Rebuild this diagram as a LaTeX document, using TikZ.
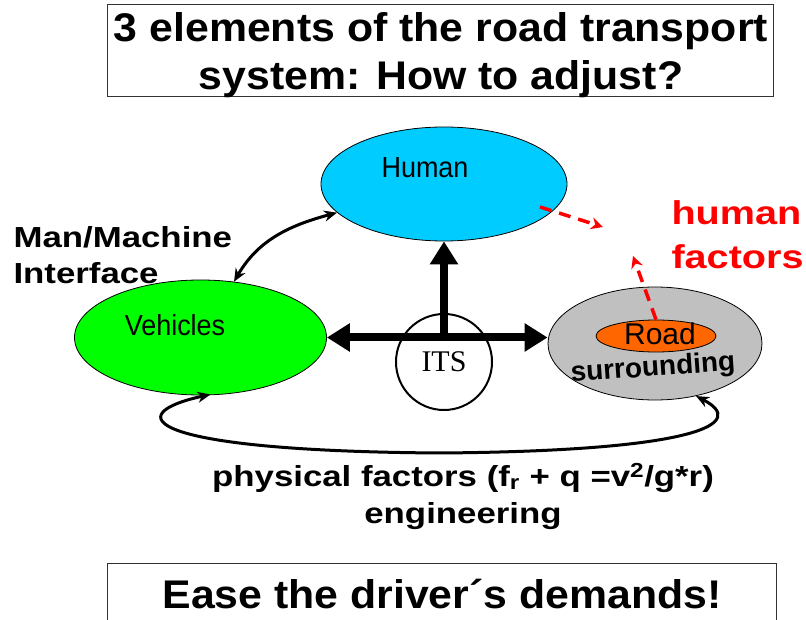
\documentclass[tikz,border=0pt]{standalone}
\usepackage{fontspec}
\setmainfont{Liberation Sans}[FakeStretch=1.2]
\newfontfamily\titlefont{Liberation Sans}[FakeStretch=1.07]
\newfontfamily\narrowfont{Liberation Sans}[FakeStretch=0.93]
\newfontfamily\plainfont{Liberation Sans}
\newfontfamily\itsfont{Liberation Serif}
\usetikzlibrary{shapes.geometric}
\usetikzlibrary{arrows.meta}
\usetikzlibrary{calc}
\definecolor{humancyan}{RGB}{0,204,255}
\definecolor{vehiclegreen}{RGB}{0,255,0}
\definecolor{roadgrey}{RGB}{192,192,192}
\definecolor{roadorange}{RGB}{255,102,0}
\newcommand{\setpx}[2]{%
    % #1 = size, #2 = baselineskip
    \fontsize{#1}{#2}\selectfont}
\tikzset{
    element/.style={ellipse, draw=black, line width=0.8pt, inner sep=0pt},
    framebox/.style={draw=black!80, line width=1pt},
    bigarrow/.style={line width=8pt, -{Triangle[length=23pt,width=27pt]}},
    thinarrow/.style={line width=3pt, {Stealth[length=13pt,width=11pt]}-{Stealth[length=13pt,width=11pt]}},
    redarrow/.style={red, line width=3.5pt, dash pattern=on 12pt off 8pt, -{Stealth[length=12pt,width=12pt]}},
}

\begin{document}
\begin{tikzpicture}[x=1pt, y=1pt]

    \useasboundingbox (0,0) rectangle (806,619);

    % title and bottom frame
    \draw[framebox] (107,614) rectangle (773,522);
    \node[align=center, font=\titlefont\bfseries\setpx{40}{48}] (title) at (441,564)
        {3 elements of the road transport\\system: How to adjust?};

    \draw[framebox] (107,56) rectangle (776,-20);
    \node[anchor=base, font=\titlefont\bfseries\setpx{40}{46}] (ease) at (442,11) {Ease the driver´s demands!};

    % the three elements
    \node[element, fill=humancyan, minimum width=246pt, minimum height=114pt] (human) at (444,435) {};
    \node[font=\narrowfont\setpx{29}{34}] (humantext) at (425,451) {Human};

    \node[element, fill=vehiclegreen, minimum width=252pt, minimum height=115pt] (vehicles) at (200.5,281.5) {};
    \node[font=\narrowfont\setpx{29}{34}] (vehiclestext) at (175,294) {Vehicles};

    \node[element, fill=roadgrey, minimum width=214pt, minimum height=113pt] (road) at (655,275.5) {};
    \node[element, fill=roadorange, minimum width=120pt, minimum height=32pt] (roadcore) at (656,283) {};
    \node[font=\plainfont\setpx{30}{34}] (roadtext) at (660,285) {Road};
    \node[font=\plainfont\bfseries\setpx{28}{30}, rotate=4] (surrtext) at (653,250) {surrounding};

    \node[circle, draw=black, line width=2pt, minimum size=96pt, inner sep=0pt,
          font=\itsfont\setpx{30}{34}] (its) at (444,257) {ITS};

    % ITS links
    \draw[bigarrow, {Triangle[length=23pt,width=27pt]}-{Triangle[length=23pt,width=27pt]}]
        (vehicles.east) -- (vehicles.east -| road.west);
    \draw[bigarrow] (its |- vehicles.east) -- (human.south);

    % man/machine
    \draw[thinarrow] (vehicles.59) to[out=60, in=195] (human.195);
    \node[anchor=west, align=left, font=\bfseries\setpx{29}{36}] (mmi) at (10,364)
        {Man/Machine\\Interface};

    % physical factors loop
    \coordinate (loopbottom) at (440,166);
    \draw[thinarrow, shorten <=-4pt] (vehicles.-84) .. controls (120,205) and (140,168) .. (loopbottom)
        .. controls (700,168) and (748,196) .. (road.-52);
    \node[align=center, font=\bfseries\setpx{29}{37}] (physical) at (463,123)
        {physical factors (f\textsubscript{r} + q =v\textsuperscript{2}/g*r)\\engineering};

    % human factors
    \coordinate (hfstart) at (540,412);
    \coordinate (hftip) at (603,392);
    \coordinate (hftip2) at (633,363);
    \draw[redarrow] (hfstart) -- (hftip);
    \draw[redarrow] (roadcore.north) -- (hftip2);
    \node[anchor=west, align=left, text=red, font=\bfseries\setpx{33}{44}] (hf) at (668,384)
        {human\\factors};

\end{tikzpicture}
\end{document}
